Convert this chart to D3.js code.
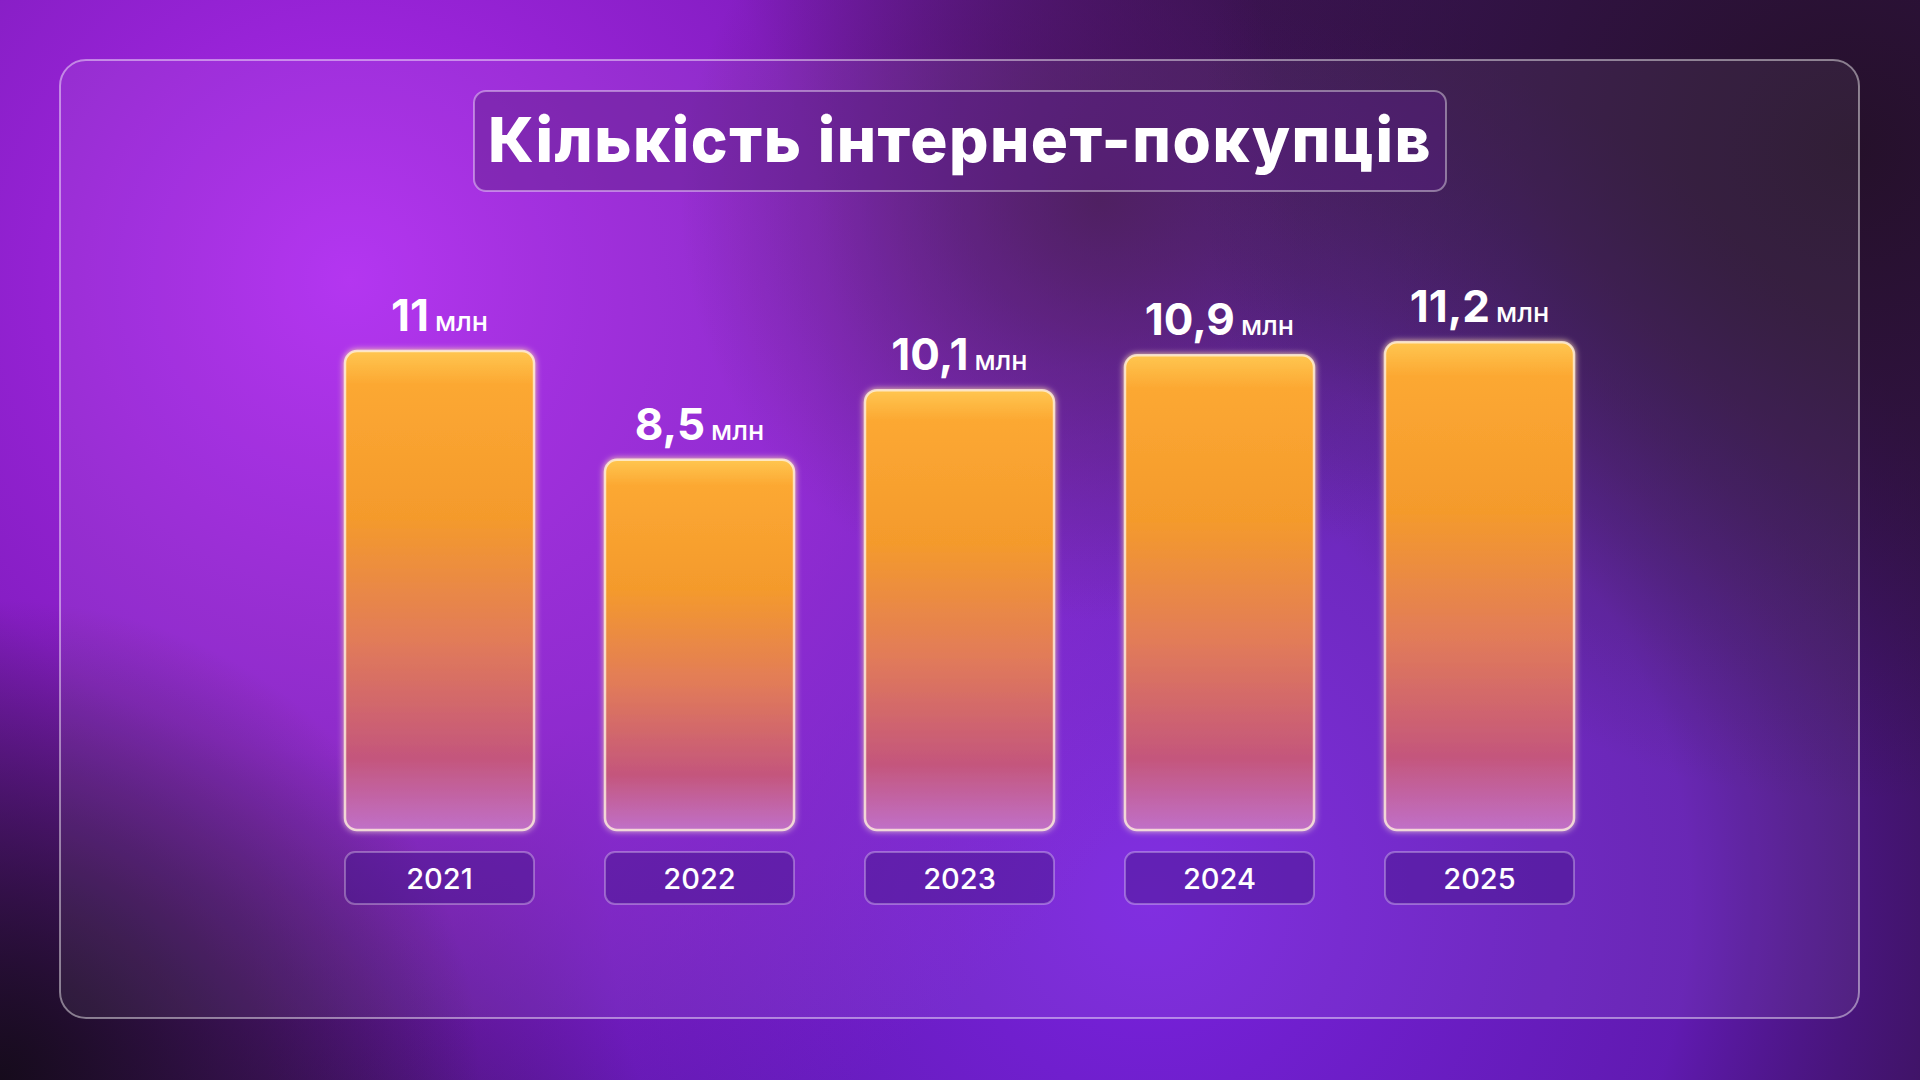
<!DOCTYPE html>
<html><head><meta charset="utf-8">
<script src="https://cdn.jsdelivr.net/npm/d3@7"></script>
<style>body{margin:0;background:#1a0d22;overflow:hidden}svg{display:block}</style>
</head><body>
<svg id="chart" width="1920" height="1080"></svg>
<script>
const years = ['2021', '2022', '2023', '2024', '2025']
const values = [11, 8.5, 10.1, 10.9, 11.2]
const valueLabels = ['11', '8,5', '10,1', '10,9', '11,2']
const unit = 'млн'
const title = 'Кількість інтернет-покупців'

const svg = d3.select('#chart')
const defs = svg.append('defs')

function radial(id, cx, cy, r, stops) {
    const g = defs.append('radialGradient').attr('id', id)
        .attr('gradientUnits', 'userSpaceOnUse')
        .attr('cx', cx).attr('cy', cy).attr('r', r)
    stops.forEach(s => g.append('stop').attr('offset', s[0]).attr('stop-color', s[1]).attr('stop-opacity', s[2]))
}
radial('g1', 350, 280, 950, [[0, '#b02af0', 1], [0.5, '#9420d8', 0.85], [1, '#8a1ad0', 0]])
radial('g2', 1150, 900, 900, [[0, '#7a22e0', 1], [0.6, '#6a1cc8', 0.8], [1, '#4a1090', 0]])
radial('g3', 1100, 200, 420, [[0, '#3e1248', 0.8], [1, '#3e1248', 0]])
radial('g4', 1850, 150, 650, [[0, '#241028', 0.95], [1, '#241028', 0]])
radial('g5', 0, 1080, 480, [[0, '#160b1c', 1], [1, '#160b1c', 0]])

svg.append('rect').attr('width', 1920).attr('height', 1080).attr('fill', '#3a1456')
;['g2', 'g1', 'g3', 'g4', 'g5'].forEach(id =>
    svg.append('rect').attr('width', 1920).attr('height', 1080).attr('fill', `url(#${id})`))

// glass panel
svg.append('rect').attr('x', 60).attr('y', 60).attr('width', 1799).attr('height', 958).attr('rx', 26)
    .attr('fill', 'rgba(255,255,255,0.06)').attr('stroke', 'rgba(255,255,255,0.45)').attr('stroke-width', 2)

// title
svg.append('rect').attr('x', 474).attr('y', 91).attr('width', 972).attr('height', 100).attr('rx', 12)
    .attr('fill', 'rgba(90,30,130,0.45)').attr('stroke', 'rgba(255,255,255,0.4)').attr('stroke-width', 2)
svg.append('text').attr('x', 960).attr('y', 162).attr('text-anchor', 'middle')
    .attr('font-family', 'Inter, "Open Sans", sans-serif').attr('font-weight', 800)
    .attr('font-size', 62).attr('letter-spacing', 1.5).attr('fill', '#fff').text(title)

const x = d3.scaleBand().domain(years).range([345, 345 + 4 * 260 + 189]).paddingInner(0.273).paddingOuter(0)
const y = d3.scaleLinear().domain([0, 11]).range([830, 351])

const bg = defs.append('linearGradient').attr('id', 'bar').attr('x1', 0).attr('y1', 0).attr('x2', 0).attr('y2', 1)
;[[0, '#ffc650'], [0.07, '#fca832'], [0.35, '#f49a2c'], [0.6, '#e27c58'], [0.85, '#c4567c'], [1, '#c070c8']]
    .forEach(s => bg.append('stop').attr('offset', s[0]).attr('stop-color', s[1]))
const glow = defs.append('filter').attr('id', 'glow').attr('x', '-20%').attr('y', '-20%').attr('width', '140%').attr('height', '140%')
glow.append('feGaussianBlur').attr('stdDeviation', 3).attr('result', 'b')
const m = glow.append('feMerge')
m.append('feMergeNode').attr('in', 'b')
m.append('feMergeNode').attr('in', 'SourceGraphic')

const bars = svg.append('g').selectAll('g').data(years).join('g')
bars.append('rect')
    .attr('x', d => x(d)).attr('width', x.bandwidth())
    .attr('y', (d, i) => y(values[i])).attr('height', (d, i) => y(0) - y(values[i]))
    .attr('rx', 12).attr('fill', 'url(#bar)')
    .attr('stroke', 'rgba(255,240,220,0.8)').attr('stroke-width', 2.5)
    .attr('filter', 'url(#glow)')

const lbl = bars.append('text').attr('text-anchor', 'middle')
    .attr('x', d => x(d) + x.bandwidth() / 2)
    .attr('y', (d, i) => y(values[i]) - 20)
    .attr('font-family', 'Inter, "Open Sans", sans-serif').attr('fill', '#fff')
lbl.append('tspan').attr('font-size', 44).attr('font-weight', 700).text((d, i) => valueLabels[i])
lbl.append('tspan').attr('font-size', 27).attr('font-weight', 500).attr('dx', 6).text(unit)

bars.append('rect').attr('x', d => x(d)).attr('width', x.bandwidth())
    .attr('y', 852).attr('height', 52).attr('rx', 10)
    .attr('fill', 'rgba(70,20,140,0.5)').attr('stroke', 'rgba(255,255,255,0.3)').attr('stroke-width', 2)
bars.append('text').attr('text-anchor', 'middle')
    .attr('x', d => x(d) + x.bandwidth() / 2).attr('y', 889)
    .attr('font-family', 'Inter, "Open Sans", sans-serif').attr('font-size', 29).attr('font-weight', 500)
    .attr('fill', '#fff').text(d => d)
</script>
</body></html>
